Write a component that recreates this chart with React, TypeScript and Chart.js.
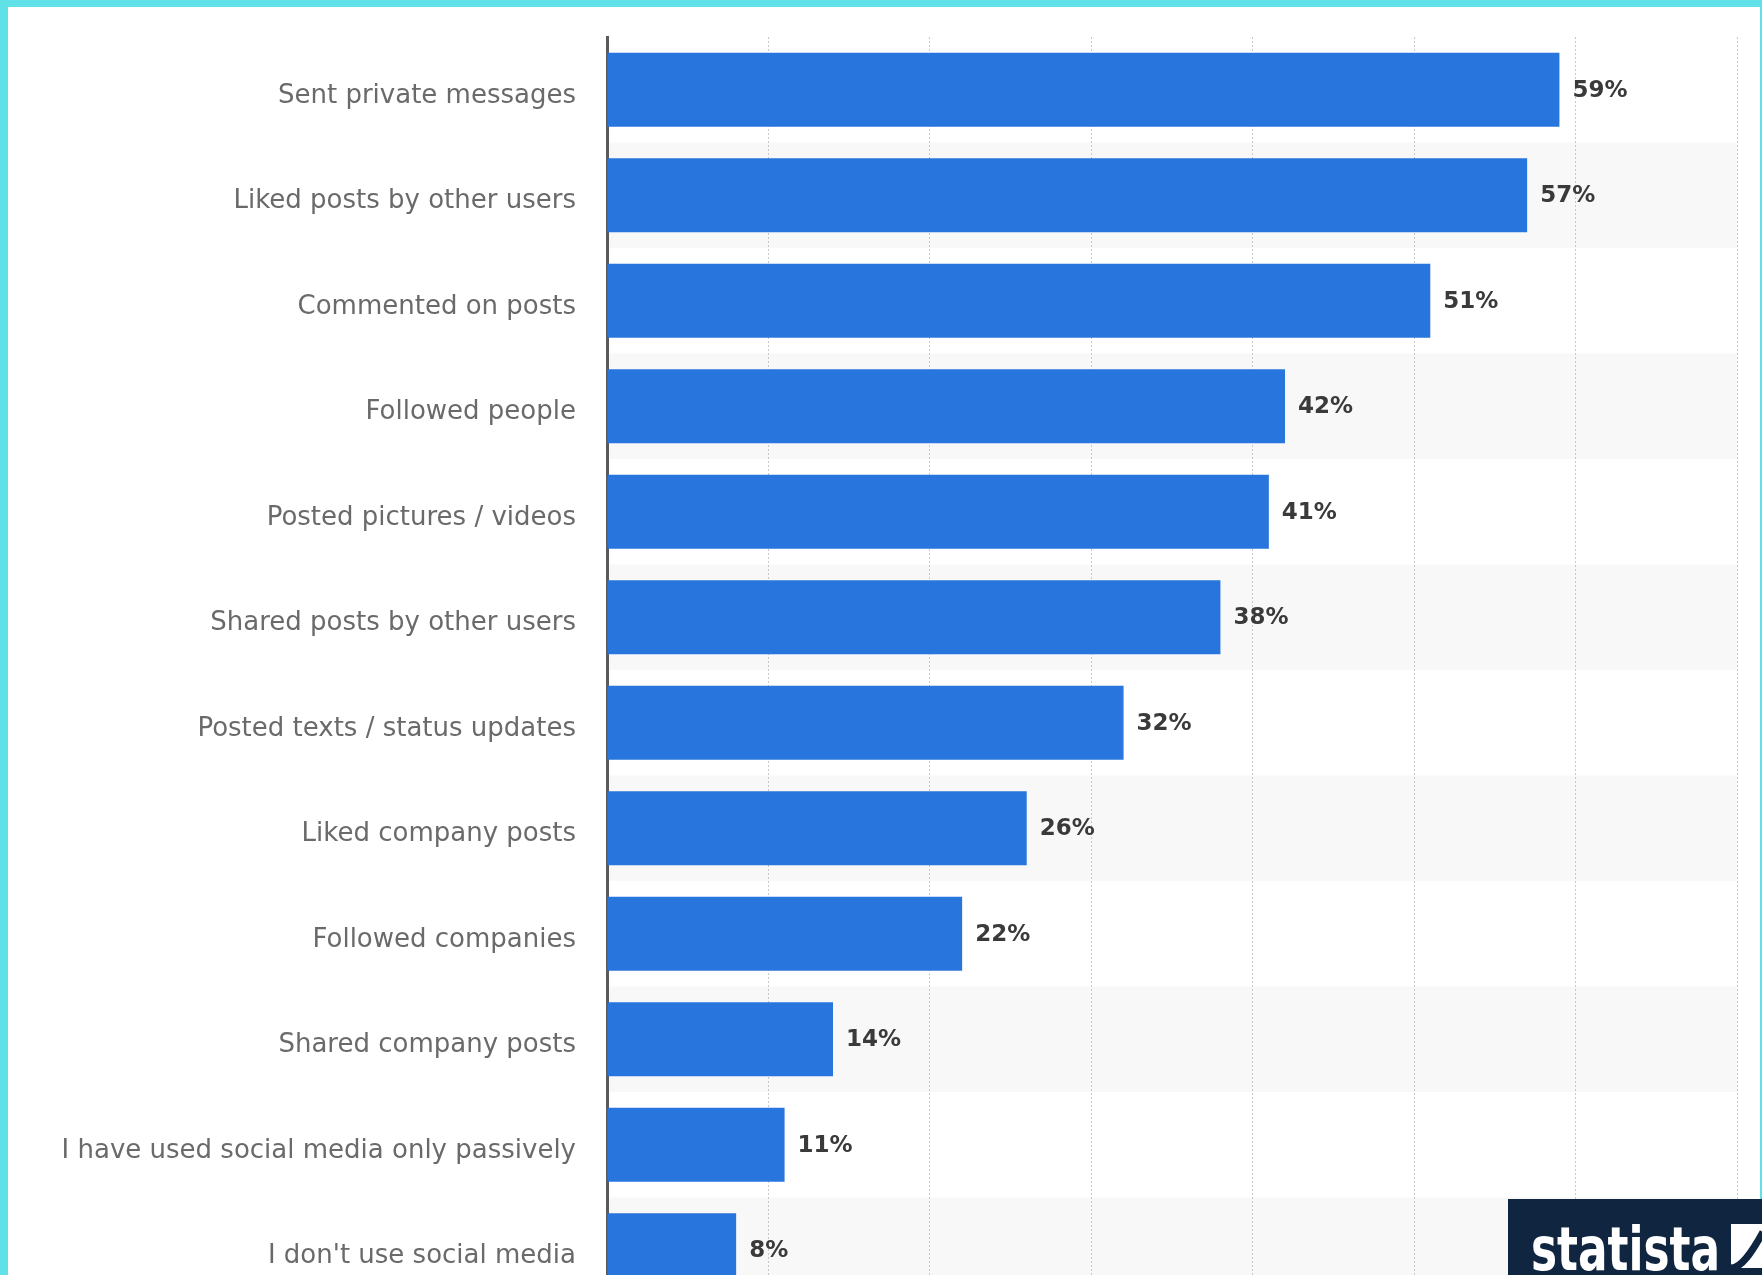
import React, { useEffect, useRef } from 'react';
import { Chart, registerables } from 'chart.js';

Chart.register(...registerables);

const categories: string[] = [
  'Sent private messages',
  'Liked posts by other users',
  'Commented on posts',
  'Followed people',
  'Posted pictures / videos',
  'Shared posts by other users',
  'Posted texts / status updates',
  'Liked company posts',
  'Followed companies',
  'Shared company posts',
  'I have used social media only passively',
  "I don't use social media",
];

const values: number[] = [59, 57, 51, 42, 41, 38, 32, 26, 22, 14, 11, 8];

const xTickValues: number[] = [0, 10, 20, 30, 40, 50, 60, 70];

const BAR_COLOR = '#2876dd';
const BAND_COLOR = '#f8f8f8';
const CYAN = '#5fe1e7';
const NAVY = '#0f2540';

export default function App() {
  const canvasRef = useRef<HTMLCanvasElement>(null);

  useEffect(() => {
    const bandPlugin = {
      id: 'bands',
      beforeDraw(chart: any) {
        const { ctx, chartArea, scales } = chart;
        const y = scales.y;
        const step = (chartArea.bottom - chartArea.top) / categories.length;
        ctx.save();
        ctx.fillStyle = BAND_COLOR;
        categories.forEach((_, i) => {
          if (i % 2 === 1) {
            const c = y.getPixelForValue(i);
            ctx.fillRect(chartArea.left, c - step / 2, chartArea.right - chartArea.left, step);
          }
        });
        ctx.restore();
      },
    };

    const valueLabelPlugin = {
      id: 'valueLabels',
      afterDatasetsDraw(chart: any) {
        const { ctx } = chart;
        const meta = chart.getDatasetMeta(0);
        ctx.save();
        ctx.font = 'bold 23px "DejaVu Sans"';
        ctx.fillStyle = '#3a3a3a';
        ctx.textAlign = 'left';
        ctx.textBaseline = 'middle';
        meta.data.forEach((bar: any, i: number) => {
          ctx.fillText(`${values[i]}%`, bar.x + 13, bar.y + 1);
        });
        ctx.restore();
      },
    };

    const chart = new Chart(canvasRef.current!, {
      type: 'bar',
      data: {
        labels: categories,
        datasets: [
          {
            data: values,
            backgroundColor: BAR_COLOR,
            barPercentage: 0.7,
            categoryPercentage: 1,
          },
        ],
      },
      options: {
        indexAxis: 'y',
        responsive: false,
        animation: false,
        layout: { padding: { top: 37, right: 25, bottom: 2, left: 0 } },
        plugins: {
          legend: { display: false },
          tooltip: { enabled: false },
        },
        scales: {
          x: {
            min: xTickValues[0],
            max: xTickValues[xTickValues.length - 1],
            ticks: { display: false, stepSize: 10 },
            grid: { color: '#c8c8c8', drawTicks: false, lineWidth: 1 },
            border: { display: false, dash: [2, 2] },
            afterFit(scale: any) {
              scale.height = 0;
              scale.paddingLeft = 0;
              scale.paddingRight = 0;
            },
          },
          y: {
            grid: { display: false, drawTicks: false },
            border: { display: true, color: '#5a5a5a', width: 3 },
            ticks: {
              color: '#6a6a6a',
              font: { family: 'DejaVu Sans', size: 26 },
              padding: 31,
              labelOffset: 6,
              autoSkip: false,
            },
            afterFit(scale: any) {
              scale.width = 607;
              scale.paddingTop = 0;
              scale.paddingBottom = 0;
            },
          },
        },
      },
      plugins: [bandPlugin, valueLabelPlugin],
    } as any);

    return () => chart.destroy();
  }, []);

  return (
    <div
      style={{
        position: 'fixed',
        left: 0,
        top: 0,
        width: 1762,
        height: 1275,
        overflow: 'hidden',
        background: '#ffffff',
      }}
    >
      <canvas
        ref={canvasRef}
        width={1762}
        height={1305}
        style={{ position: 'absolute', left: 0, top: 0, display: 'block' }}
      />
      <div style={{ position: 'absolute', left: 0, top: 0, width: 1762, height: 7, background: CYAN }} />
      <div style={{ position: 'absolute', left: 0, top: 0, width: 8, height: 1275, background: CYAN }} />
      <div style={{ position: 'absolute', left: 1760, top: 0, width: 2, height: 1275, background: CYAN }} />
      <div
        style={{
          position: 'absolute',
          left: 1508,
          top: 1199,
          width: 254,
          height: 76,
          background: NAVY,
          overflow: 'hidden',
        }}
      >
        <span
          style={{
            position: 'absolute',
            left: 23,
            top: 20,
            fontFamily: '"DejaVu Sans"',
            fontWeight: 'bold',
            fontSize: 60,
            lineHeight: '60px',
            color: '#ffffff',
            whiteSpace: 'nowrap',
            transform: 'scaleX(0.73)',
            transformOrigin: 'left center',
          }}
        >
          statista
        </span>
        <svg
          width={32}
          height={44}
          viewBox="0 0 32 44"
          style={{ position: 'absolute', left: 223, top: 25 }}
        >
          <rect x={0} y={0} width={32} height={44} fill="#ffffff" />
          <path d="M 0 44 C 10 44, 20 30, 32 8" stroke={NAVY} strokeWidth={7} fill="none" />
        </svg>
      </div>
    </div>
  );
}
